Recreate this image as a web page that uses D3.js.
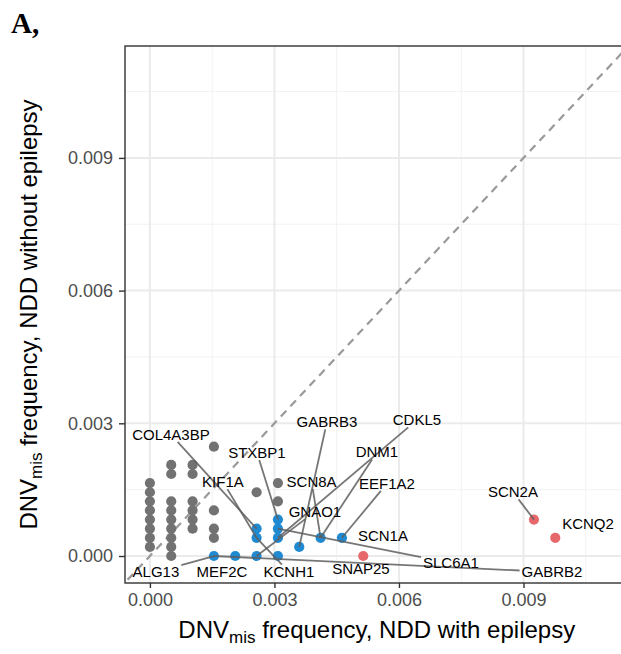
<!DOCTYPE html>
<html>
<head>
<meta charset="utf-8">
<title>DNVmis frequency, NDD with vs without epilepsy</title>
<script src="https://cdn.jsdelivr.net/npm/d3@7/dist/d3.min.js"></script>
<style>
body {
  margin: 0;
  background: #fff;
  font-family: "Liberation Sans", Arial, sans-serif;
}
</style>
</head>
<body>
<svg id="chart" width="621" height="654"></svg>
<script>

// tick values
var xTicks = [0, 0.003, 0.006, 0.009];
var yTicks = [0, 0.003, 0.006, 0.009];
var minorTicks = [0.0015, 0.0045, 0.0075, 0.0105];

// genes not labelled (grey)
var greyX = [0, 0, 0, 0, 0, 0, 0, 0,
  0.000514, 0.000514, 0.000514, 0.000514, 0.000514, 0.000514, 0.000514, 0.000514, 0.000514,
  0.001028, 0.001028, 0.001028, 0.001028, 0.001028, 0.001028,
  0.001542, 0.001542, 0.001542, 0.001542,
  0.00257,
  0.003084, 0.003084];
var greyY = [0.000206, 0.000412, 0.000618, 0.000824, 0.00103, 0.001236, 0.001442, 0.001648,
  0, 0.000206, 0.000412, 0.000618, 0.000824, 0.00103, 0.001236, 0.001854, 0.00206,
  0.000618, 0.000824, 0.00103, 0.001236, 0.001854, 0.00206,
  0.000412, 0.000618, 0.00103, 0.002472,
  0.001442,
  0.001236, 0.001648];

// blue genes
var blueX = [0.001542, 0.002056, 0.00257, 0.00257, 0.00257, 0.003084, 0.003084, 0.003084, 0.003084, 0.003598, 0.004112, 0.004626];
var blueY = [0, 0, 0, 0.000412, 0.000618, 0, 0.000412, 0.000618, 0.000824, 0.000206, 0.000412, 0.000412];

// red genes
var redX = [0.00514, 0.009252, 0.009766];
var redY = [0, 0.000824, 0.000412];

// labelled genes: point it belongs to
var geneNames = ['COL4A3BP', 'STXBP1', 'GABRB3', 'CDKL5', 'DNM1', 'KIF1A', 'SCN8A', 'EEF1A2', 'GNAO1',
  'SCN1A', 'SLC6A1', 'ALG13', 'MEF2C', 'KCNH1', 'SNAP25', 'GABRB2', 'SCN2A', 'KCNQ2'];
var geneX = [0.00257, 0.003084, 0.003598, 0.003084, 0.004112, 0.00257, 0.004112, 0.004626, 0.00257,
  0.004626, 0.003084, 0.001542, 0.002056, 0.00257, 0.00514, 0.001542, 0.009252, 0.009766];
var geneY = [0.000618, 0.000824, 0.000206, 0.000412, 0.000412, 0.000412, 0.000412, 0.000412, 0,
  0.000412, 0.000618, 0, 0, 0.000412, 0, 0, 0.000824, 0.000412];

// where the repelled labels ended up (data units)
var labelX = [0.000506, 0.002578, 0.004265, 0.006434, 0.00547, 0.001759, 0.003896, 0.005711, 0.003976,
  0.005614, 0.007253, 0.000145, 0.001735, 0.003349, 0.005084, 0.009687, 0.008747, 0.010554];
var labelY = [0.002747, 0.00234, 0.00303, 0.003075, 0.002351, 0.00168, 0.00168, 0.001639, 0.001002,
  0.000452, -0.000158, -0.000362, -0.000362, -0.000362, -0.000294, -0.000362, 0.001447, 0.000723];

var panel = {left: 125, top: 46, right: 628.5, bottom: 583};

var svg = d3.select('#chart');

var x = d3.scaleLinear().domain([-0.0006, 0.01153]).range([panel.left, panel.right]);
var y = d3.scaleLinear().domain([-0.00061, 0.01153]).range([panel.bottom, panel.top]);

svg.append('defs').append('clipPath').attr('id', 'clip')
  .append('rect')
  .attr('x', panel.left).attr('y', panel.top)
  .attr('width', panel.right - panel.left).attr('height', panel.bottom - panel.top);

var plot = svg.append('g').attr('clip-path', 'url(#clip)');

// grid
plot.selectAll('.vminor').data(minorTicks).enter().append('line')
  .attr('x1', function(d) { return x(d); }).attr('x2', function(d) { return x(d); })
  .attr('y1', panel.top).attr('y2', panel.bottom)
  .style('stroke', '#f2f2f2').style('stroke-width', 1);
plot.selectAll('.hminor').data(minorTicks).enter().append('line')
  .attr('y1', function(d) { return y(d); }).attr('y2', function(d) { return y(d); })
  .attr('x1', panel.left).attr('x2', panel.right)
  .style('stroke', '#f2f2f2').style('stroke-width', 1);
plot.selectAll('.vmajor').data(xTicks).enter().append('line')
  .attr('x1', function(d) { return x(d); }).attr('x2', function(d) { return x(d); })
  .attr('y1', panel.top).attr('y2', panel.bottom)
  .style('stroke', '#ebebeb').style('stroke-width', 2);
plot.selectAll('.hmajor').data(yTicks).enter().append('line')
  .attr('y1', function(d) { return y(d); }).attr('y2', function(d) { return y(d); })
  .attr('x1', panel.left).attr('x2', panel.right)
  .style('stroke', '#ebebeb').style('stroke-width', 2);

// y = x reference
plot.append('line')
  .attr('x1', x(-0.001)).attr('y1', y(-0.001))
  .attr('x2', x(0.012)).attr('y2', y(0.012))
  .style('stroke', '#999').style('stroke-width', 2.2)
  .style('stroke-dasharray', '8,6');

function drawPoints(xs, ys, colour) {
  plot.selectAll(null).data(xs).enter().append('circle')
    .attr('cx', function(d) { return x(d); })
    .attr('cy', function(d, i) { return y(ys[i]); })
    .attr('r', 5.1)
    .style('fill', colour);
}
drawPoints(greyX, greyY, '#727272');
drawPoints(blueX, blueY, '#1f8ad2');
drawPoints(redX, redY, '#e6686b');

// labels + repel-style segments
var fs = 15;
var segs = plot.append('g');
var labels = plot.append('g');
geneNames.forEach(function(name, i) {
  var cx = x(labelX[i]), cy = y(labelY[i]);
  var t = labels.append('text')
    .attr('x', cx).attr('y', cy + fs * 0.36)
    .attr('text-anchor', 'middle')
    .style('font-size', fs + 'px')
    .style('fill', '#000')
    .text(name);
  var hw = t.node().getComputedTextLength() / 2 + 2;
  var hh = fs * 0.36 + 2;
  var px = x(geneX[i]), py = y(geneY[i]);
  var dx = px - cx, dy = py - cy;
  var tt = Math.min(dx ? hw / Math.abs(dx) : Infinity, dy ? hh / Math.abs(dy) : Infinity);
  if (tt >= 1) return;
  var len = Math.sqrt(dx * dx + dy * dy) * (1 - tt);
  if (len < 18) return;
  segs.append('line')
    .attr('x1', cx + dx * tt).attr('y1', cy + dy * tt)
    .attr('x2', px).attr('y2', py)
    .style('stroke', '#5e5e5e').style('stroke-opacity', 0.85)
    .style('stroke-width', 1.8);
});

// panel border
svg.append('rect')
  .attr('x', panel.left).attr('y', panel.top)
  .attr('width', panel.right - panel.left).attr('height', panel.bottom - panel.top)
  .style('fill', 'none').style('stroke', '#333').style('stroke-width', 1.4);

// axes
var fmt = d3.format('.3f');
var gx = svg.append('g').attr('transform', 'translate(0,' + panel.bottom + ')')
  .call(d3.axisBottom(x).tickValues(xTicks).tickSize(5).tickPadding(5).tickFormat(fmt));
var gy = svg.append('g').attr('transform', 'translate(' + panel.left + ',0)')
  .call(d3.axisLeft(y).tickValues(yTicks).tickSize(6).tickPadding(6).tickFormat(fmt));
[gx, gy].forEach(function(g) {
  g.select('.domain').remove();
  g.selectAll('.tick line').style('stroke', '#333').style('stroke-width', 1.4);
  g.selectAll('.tick text')
    .style('font-family', '"Liberation Sans", Arial, sans-serif')
    .style('font-size', '18px')
    .style('fill', '#4d4d4d');
});

// axis titles
var tfs = 24, sfs = 17;
var xt = svg.append('text')
  .attr('x', (panel.left + panel.right) / 2).attr('y', 638)
  .attr('text-anchor', 'middle')
  .style('font-size', tfs + 'px').style('fill', '#000');
xt.append('tspan').text('DNV');
xt.append('tspan').attr('dy', 5).style('font-size', sfs + 'px').text('mis');
xt.append('tspan').attr('dy', -5).text(' frequency, NDD with epilepsy');

var yt = svg.append('text')
  .attr('transform', 'translate(37,' + ((panel.top + panel.bottom) / 2) + ') rotate(-90)')
  .attr('text-anchor', 'middle')
  .style('font-size', tfs + 'px').style('fill', '#000');
yt.append('tspan').text('DNV');
yt.append('tspan').attr('dy', 5).style('font-size', sfs + 'px').text('mis');
yt.append('tspan').attr('dy', -5).text(' frequency, NDD without epilepsy');

// panel tag
svg.append('text')
  .attr('x', 11).attr('y', 33)
  .style('font-family', '"Liberation Serif", serif')
  .style('font-weight', 'bold')
  .style('font-size', '29px')
  .text('A,');

</script>
</body>
</html>
